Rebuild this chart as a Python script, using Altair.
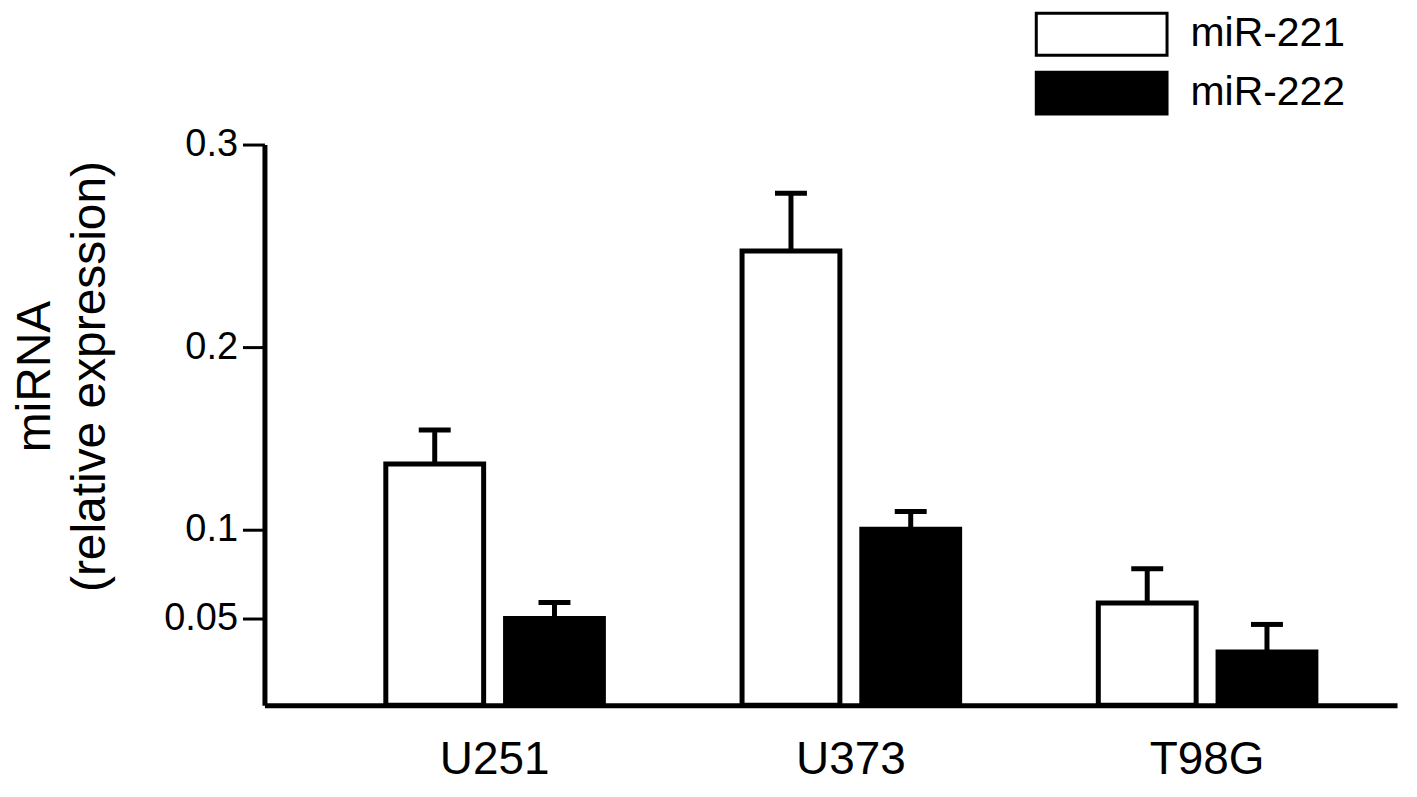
import altair as alt
import pandas as pd

cell_lines = ["U251", "U373", "T98G"]
series = ["miR-221", "miR-222"]
mir221 = [0.136, 0.2475, 0.0587]
mir221_top = [0.1546, 0.276, 0.078]
mir222 = [0.050, 0.1003, 0.0307]
mir222_top = [0.059, 0.110, 0.0466]
y_ticks = [0.05, 0.1, 0.2, 0.3]

rows = []
for i, c in enumerate(cell_lines):
    rows.append({"cell": c, "series": series[0], "value": mir221[i], "top": mir221_top[i]})
    rows.append({"cell": c, "series": series[1], "value": mir222[i], "top": mir222_top[i]})
df = pd.DataFrame(rows)

FONT = "Liberation Sans"
W, H = 1135, 562

x = alt.X("cell:N", sort=cell_lines, title=None,
          scale=alt.Scale(paddingInner=0, paddingOuter=0.0896, align=0.815),
          axis=alt.Axis(labelAngle=0, ticks=False, domainWidth=5, domainColor="black",
                        labelFontSize=46, labelFont=FONT, labelColor="black",
                        labelPadding=32))
xo = alt.XOffset("series:N", sort=series,
                 scale=alt.Scale(paddingInner=0.183, paddingOuter=0.579))
yscale = alt.Scale(domain=[0, 0.05, 0.1, 0.2, 0.3], range=[H, 475, 386, 203, 0],
                   zero=False, nice=False)
y = alt.Y("value:Q", scale=yscale,
          axis=alt.Axis(values=y_ticks, format="~g", grid=False,
                        domainWidth=5, domainColor="black",
                        tickSize=22, tickWidth=3, tickColor="black",
                        labelFontSize=38, labelFont=FONT, labelColor="black",
                        labelPadding=5,
                        title=["miRNA", "(relative expression)"],
                        titleFontSize=48, titleFont=FONT, titleFontWeight="normal",
                        titleColor="black", titleAngle=270, titleAlign="center",
                        titleBaseline="alphabetic", titleX=-215, titleY=232,
                        titleLineHeight=55))

legend = alt.Legend(title=None, orient="none", legendX=816.5, legendY=-133,
                    padding=0, symbolType="M-3.12,-1H3.12V1H-3.12Z", symbolSize=1764,
                    symbolStrokeColor="black", symbolStrokeWidth=3, symbolOpacity=1,
                    labelFontSize=41, labelFont=FONT, labelColor="black",
                    labelOffset=66.5, rowPadding=4)

bars = alt.Chart(df).mark_bar(stroke="black", strokeWidth=5, opacity=1).encode(
    x=x, xOffset=xo, y=y,
    fill=alt.Fill("series:N", sort=series,
                  scale=alt.Scale(domain=series, range=["white", "black"]),
                  legend=legend),
)

errs = alt.Chart(df).mark_rule(color="black", strokeWidth=5).encode(
    x=x, xOffset=xo, y=alt.Y("value:Q", scale=yscale), y2="top:Q",
)

caps = alt.Chart(df).mark_tick(color="black", orient="horizontal", size=32,
                               thickness=5, opacity=1).encode(
    x=x, xOffset=xo, y=alt.Y("top:Q", scale=yscale),
)

chart = alt.layer(errs, bars, caps).properties(
    width=W, height=H,
    background="white",
    autosize=alt.AutoSizeParams(type="none"),
    padding={"left": 257, "top": 136, "right": 12, "bottom": 80},
).configure_view(strokeWidth=0, stroke="transparent")

chart.save("out.html", embed_options={"renderer": "svg", "actions": False})
